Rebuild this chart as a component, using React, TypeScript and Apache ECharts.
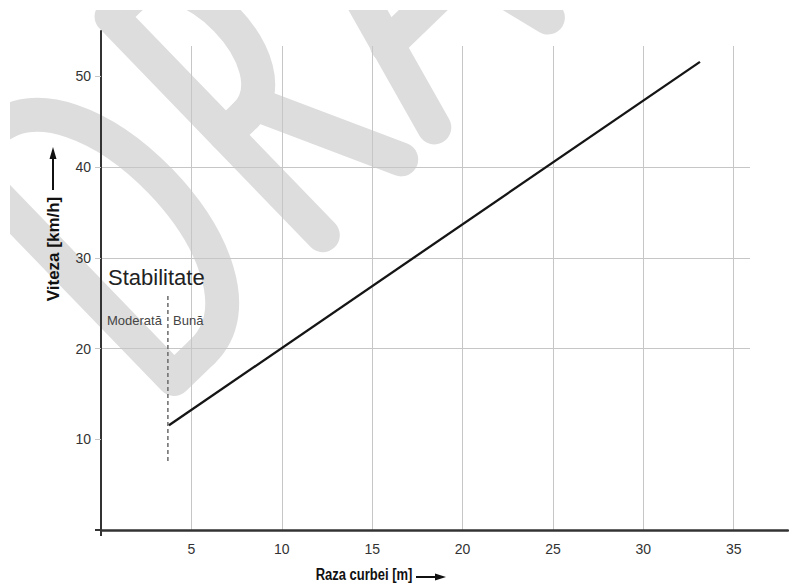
import React, { useEffect, useRef } from 'react';
import * as echarts from 'echarts';

// ---- data ----
const xTicks = [5, 10, 15, 20, 25, 30, 35];
const yTicks = [10, 20, 30, 40, 50];
const speedLine = [[3.76, 11.55], [33.13, 51.6]];
const stabilityBoundary = [[3.7, 7.6], [3.7, 26.1]];
const xAxisName = 'Raza curbei [m]';
const yAxisName = 'Viteza [km/h]';
const stabilityTitle = 'Stabilitate';
const stabilityLeft = 'Moderată';
const stabilityRight = 'Bună';

const FONT = '"Liberation Sans", Arial, Helvetica, sans-serif';

const wm = { stroke: '#dddddd', lineWidth: 34, lineCap: 'round', lineJoin: 'round', fill: null };
const WZ = -5;

function watermark() {
  const kids: any[] = [
    // D
    { type: 'polyline', shape: { points: [[40, -304], [0, -304], [0, 0], [40, 0]] } },
    { type: 'bezierCurve', shape: { x1: 40, y1: -304, cpx1: 157, cpy1: -304, cpx2: 157, cpy2: 0, x2: 40, y2: 0 } },
    // R
    { type: 'polyline', shape: { points: [[207, 0], [207, -304], [235, -304]] } },
    { type: 'bezierCurve', shape: { x1: 235, y1: -304, cpx1: 305, cpy1: -304, cpx2: 305, cpy2: -140, x2: 235, y2: -140 } },
    { type: 'polyline', shape: { points: [[207, -140], [235, -140]] } },
    { type: 'polyline', shape: { points: [[250, -140], [316, 0]] } },
    // A
    { type: 'polyline', shape: { points: [[362, 0], [441, -304], [520, 0]] } },
    { type: 'polyline', shape: { points: [[385, -92], [497, -92]] } },
    // F
    { type: 'polyline', shape: { points: [[575, 0], [575, -304], [690, -304]] } },
    { type: 'polyline', shape: { points: [[575, -160], [670, -160]] } },
    // T
    { type: 'polyline', shape: { points: [[700, -304], [850, -304]] } },
    { type: 'polyline', shape: { points: [[775, -304], [775, 0]] } },
  ].map((k) => ({ ...k, style: { ...wm }, z: WZ, silent: true }));
  return {
    type: 'group',
    x: 174,
    y: 379,
    rotation: 0.768,
    z: WZ,
    silent: true,
    children: kids,
  };
}

export default function App() {
  const ref = useRef<HTMLDivElement>(null);

  useEffect(() => {
    if (!ref.current) return;
    const chart = echarts.init(ref.current, null, { renderer: 'svg' });
    const labelFmt = (ticks: number[]) => (v: number) => (ticks.indexOf(v) >= 0 ? String(v) : '');

    chart.setOption({
      animation: false,
      backgroundColor: '#ffffff',
      grid: [
        { left: 101, right: 1, top: 31, bottom: 54 },
        { left: 101, right: 39, top: 46, bottom: 54 },
      ],
      xAxis: [
        {
          gridIndex: 0,
          type: 'value',
          min: 0,
          max: 38,
          axisLine: { show: true, onZero: false, lineStyle: { color: '#333', width: 2.5 } },
          axisTick: { show: true, customValues: [0], length: 6, lineStyle: { color: '#333', width: 2 } },
          axisLabel: { show: false },
          splitLine: { show: false },
        },
        {
          gridIndex: 1,
          type: 'value',
          min: 0,
          max: 35.9,
          interval: 5,
          axisLine: { show: false },
          axisTick: { show: false },
          axisLabel: {
            show: true,
            customValues: xTicks,
            formatter: labelFmt(xTicks),
            fontSize: 14,
            fontFamily: FONT,
            color: '#333',
            margin: 12,
          },
          splitLine: { show: true, showMinLine: false, showMaxLine: false, lineStyle: { color: '#c6c6c6', width: 1 } },
        },
      ],
      yAxis: [
        {
          gridIndex: 0,
          type: 'value',
          min: 0,
          max: 55,
          axisLine: { show: true, onZero: false, lineStyle: { color: '#333', width: 2 } },
          axisTick: { show: true, customValues: [0], length: 6, lineStyle: { color: '#333', width: 2 } },
          axisLabel: { show: false },
          splitLine: { show: false },
        },
        {
          gridIndex: 1,
          type: 'value',
          min: 0,
          max: 53.35,
          interval: 10,
          axisLine: { show: false },
          axisTick: { show: true, customValues: yTicks, length: 6, lineStyle: { color: '#c6c6c6', width: 1 } },
          axisLabel: {
            show: true,
            customValues: yTicks,
            formatter: labelFmt(yTicks),
            fontSize: 14,
            fontFamily: FONT,
            color: '#333',
            margin: 10,
          },
          splitLine: { show: true, showMinLine: false, showMaxLine: false, lineStyle: { color: '#c6c6c6', width: 1 } },
        },
      ],
      series: [
        {
          type: 'line',
          xAxisIndex: 0,
          yAxisIndex: 0,
          data: speedLine,
          symbol: 'none',
          silent: true,
          lineStyle: { color: '#151515', width: 2.3 },
          z: 4,
        },
        {
          type: 'line',
          xAxisIndex: 0,
          yAxisIndex: 0,
          data: stabilityBoundary,
          symbol: 'none',
          silent: true,
          lineStyle: { color: '#6a6a6a', width: 1.5, type: [4, 3] },
          z: 3,
        },
      ],
      graphic: [
        watermark(),
        { type: 'rect', shape: { x: 0, y: 0, width: 789, height: 10 }, style: { fill: '#ffffff' }, z: -4, silent: true },
        { type: 'rect', shape: { x: 0, y: 0, width: 10, height: 584 }, style: { fill: '#ffffff' }, z: -4, silent: true },
        {
          type: 'text',
          x: 108,
          y: 277,
          z: 10,
          style: { text: stabilityTitle, font: `22px ${FONT}`, fill: '#222', align: 'left', verticalAlign: 'middle' },
        },
        {
          type: 'text',
          x: 107,
          y: 320,
          z: 10,
          style: { text: stabilityLeft, font: `13px ${FONT}`, fill: '#444', align: 'left', verticalAlign: 'middle' },
        },
        {
          type: 'text',
          x: 173,
          y: 320,
          z: 10,
          style: { text: stabilityRight, font: `13px ${FONT}`, fill: '#444', align: 'left', verticalAlign: 'middle' },
        },
        {
          type: 'text',
          x: 364,
          y: 575,
          scaleY: 1.2,
          z: 10,
          style: { text: xAxisName, font: `bold 13px ${FONT}`, fill: '#111', align: 'center', verticalAlign: 'middle' },
        },
        { type: 'line', z: 10, shape: { x1: 416, y1: 577, x2: 437, y2: 577 }, style: { stroke: '#111', lineWidth: 2 } },
        { type: 'polygon', z: 10, shape: { points: [[446, 577], [435, 573.5], [435, 580.5]] }, style: { fill: '#111' } },
        {
          type: 'text',
          x: 53,
          y: 249,
          rotation: Math.PI / 2,
          z: 10,
          style: { text: yAxisName, font: `bold 17px ${FONT}`, fill: '#111', align: 'center', verticalAlign: 'middle' },
        },
        { type: 'line', z: 10, shape: { x1: 53, y1: 190, x2: 53, y2: 157 }, style: { stroke: '#111', lineWidth: 2 } },
        { type: 'polygon', z: 10, shape: { points: [[53, 147], [49.5, 159], [56.5, 159]] }, style: { fill: '#111' } },
      ],
    });
    return () => chart.dispose();
  }, []);

  return (
    <div
      ref={ref}
      style={{ position: 'absolute', left: 0, top: 0, width: 789, height: 584 }}
    />
  );
}
